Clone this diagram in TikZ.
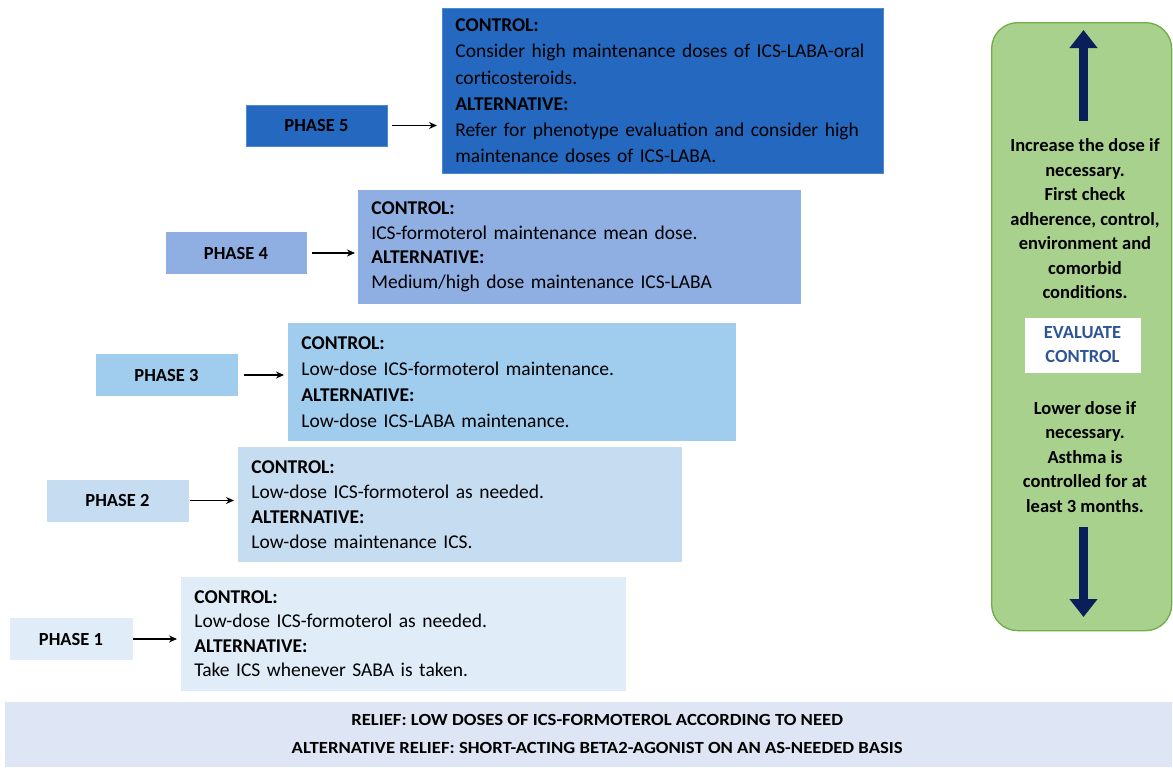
\documentclass[tikz,border=0pt]{standalone}
\usepackage{fontspec}
\usepackage{graphicx}
\setmainfont{Carlito}
\usetikzlibrary{arrows.meta}
\definecolor{cfive}{HTML}{2469BF}
\definecolor{cfiveb}{HTML}{4D88D0}
\definecolor{cfour}{HTML}{8FAEE2}
\definecolor{cthree}{HTML}{A0CCEE}
\definecolor{ctwo}{HTML}{C5DCF1}
\definecolor{cone}{HTML}{E0ECF8}
\definecolor{relief}{HTML}{DEE5F4}
\definecolor{gfill}{HTML}{A9D18E}
\definecolor{gline}{HTML}{70AD47}
\definecolor{navy}{HTML}{0A1E5A}
\definecolor{evalblue}{HTML}{2F5597}
\tikzset{
  phasebox/.style={draw=#1, fill=#1, line width=0.8pt, minimum height=41pt, font=\fontsize{18.5}{22}\selectfont\bfseries, inner sep=0pt},
  contbox/.style={draw=#1, fill=#1, line width=0.8pt, anchor=north west, align=left, inner xsep=13pt, inner ysep=0pt},
  conn/.style={-{Stealth[length=8pt,width=7pt]}, line width=1.1pt, black},
  bigarrow/.style={line width=9pt, navy, -{Triangle[width=27pt,length=18pt]}},
  greentext/.style={align=center, font=\fontsize{18.5}{24.5}\selectfont\bfseries, text=black}
}
\begin{document}
\begin{tikzpicture}[x=1pt,y=-1pt]
\useasboundingbox (0,0) rectangle (1173,769);
% relief band
\node[draw=relief, fill=relief, minimum width=1166pt, minimum height=64pt, anchor=north west, inner sep=0pt,
  align=center, font=\fontsize{17}{28}\selectfont\bfseries] (relief) at (5,702)
  {\hspace*{18pt}\scalebox{1.1}[1]{RELIEF: LOW DOSES OF ICS-FORMOTEROL ACCORDING TO NEED}\\\hspace*{18pt}\scalebox{1.1}[1]{ALTERNATIVE RELIEF: SHORT-ACTING BETA2-AGONIST ON AN AS-NEEDED BASIS}};
% phase 5
\node[contbox=cfive, draw=cfiveb, minimum width=441pt, minimum height=165pt, text width=415pt, font=\fontsize{19.5}{26.2}\selectfont] (c5) at (442,8)
  {\textbf{CONTROL:}\\Consider high maintenance doses of ICS-LABA-oral\\corticosteroids.\\\textbf{ALTERNATIVE:}\\Refer for phenotype evaluation and consider high\\maintenance doses of ICS-LABA.};
\node[phasebox=cfive, draw=cfiveb, minimum width=141pt] (p5) at (316.5,125.5) {PHASE 5};
% phase 4
\node[contbox=cfour, minimum width=442pt, minimum height=113pt, text width=416pt, font=\fontsize{19.5}{24.7}\selectfont] (c4) at (358,190)
  {\textbf{CONTROL:}\\ICS-formoterol maintenance mean dose.\\\textbf{ALTERNATIVE:}\\Medium/high dose maintenance ICS-LABA};
\node[phasebox=cfour, minimum width=140pt] (p4) at (236,253) {PHASE 4};
% phase 3
\node[contbox=cthree, minimum width=447pt, minimum height=117pt, text width=421pt, font=\fontsize{19.5}{26}\selectfont] (c3) at (288,323)
  {\textbf{CONTROL:}\\Low-dose ICS-formoterol maintenance.\\\textbf{ALTERNATIVE:}\\Low-dose ICS-LABA maintenance.};
\node[phasebox=cthree, minimum width=141pt] (p3) at (166.5,375) {PHASE 3};
% phase 2
\node[contbox=ctwo, minimum width=443pt, minimum height=114pt, text width=417pt, font=\fontsize{19.5}{25}\selectfont] (c2) at (238,447)
  {\textbf{CONTROL:}\\Low-dose ICS-formoterol as needed.\\\textbf{ALTERNATIVE:}\\Low-dose maintenance ICS.};
\node[phasebox=ctwo, minimum width=141pt] (p2) at (117.5,500.5) {PHASE 2};
% phase 1
\node[contbox=cone, minimum width=444pt, minimum height=113pt, text width=418pt, font=\fontsize{19.5}{24.5}\selectfont] (c1) at (181,577)
  {\textbf{CONTROL:}\\Low-dose ICS-formoterol as needed.\\\textbf{ALTERNATIVE:}\\Take ICS whenever SABA is taken.};
\node[phasebox=cone, minimum width=122pt] (p1) at (71,639) {PHASE 1};
% connectors
\draw[conn] ([xshift=5pt]p5.east) -- ([xshift=-5pt]c5.west |- p5.east);
\draw[conn] ([xshift=6pt]p4.east) -- ([xshift=-3pt]c4.west |- p4.east);
\draw[conn] ([xshift=7pt]p3.east) -- ([xshift=-4pt]c3.west |- p3.east);
\draw[conn] ([xshift=2pt]p2.east) -- ([xshift=-4pt]c2.west |- p2.east);
\draw[conn] ([xshift=1pt]p1.east) -- ([xshift=-4pt]c1.west |- p1.east);
% green panel
\node[draw=gline, fill=gfill, line width=1.3pt, rounded corners=26pt, minimum width=180pt, minimum height=608pt, anchor=north west, inner sep=0pt] (panel) at (991,22) {};
\coordinate (upbot) at (1083.5,121);
\coordinate (uptop) at (1083.5,30);
\coordinate (dntop) at (1083.5,527);
\coordinate (dnbot) at (1083.5,617);
\draw[bigarrow] (upbot) -- (uptop);
\draw[bigarrow] (dntop) -- (dnbot);
\node[greentext] (inc) at (1085,219) {Increase the dose if\\necessary.\\First check\\adherence, control,\\environment and\\comorbid\\conditions.};
\node[fill=white, draw=white, minimum width=115pt, minimum height=54pt, inner sep=0pt, align=center,
  font=\fontsize{18.5}{24}\selectfont\bfseries, text=evalblue] (eval) at (1082.5,345) {EVALUATE\\CONTROL};
\node[greentext] (low) at (1085,457) {Lower dose if\\necessary.\\Asthma is\\controlled for at\\least 3 months.};
\end{tikzpicture}
\end{document}
